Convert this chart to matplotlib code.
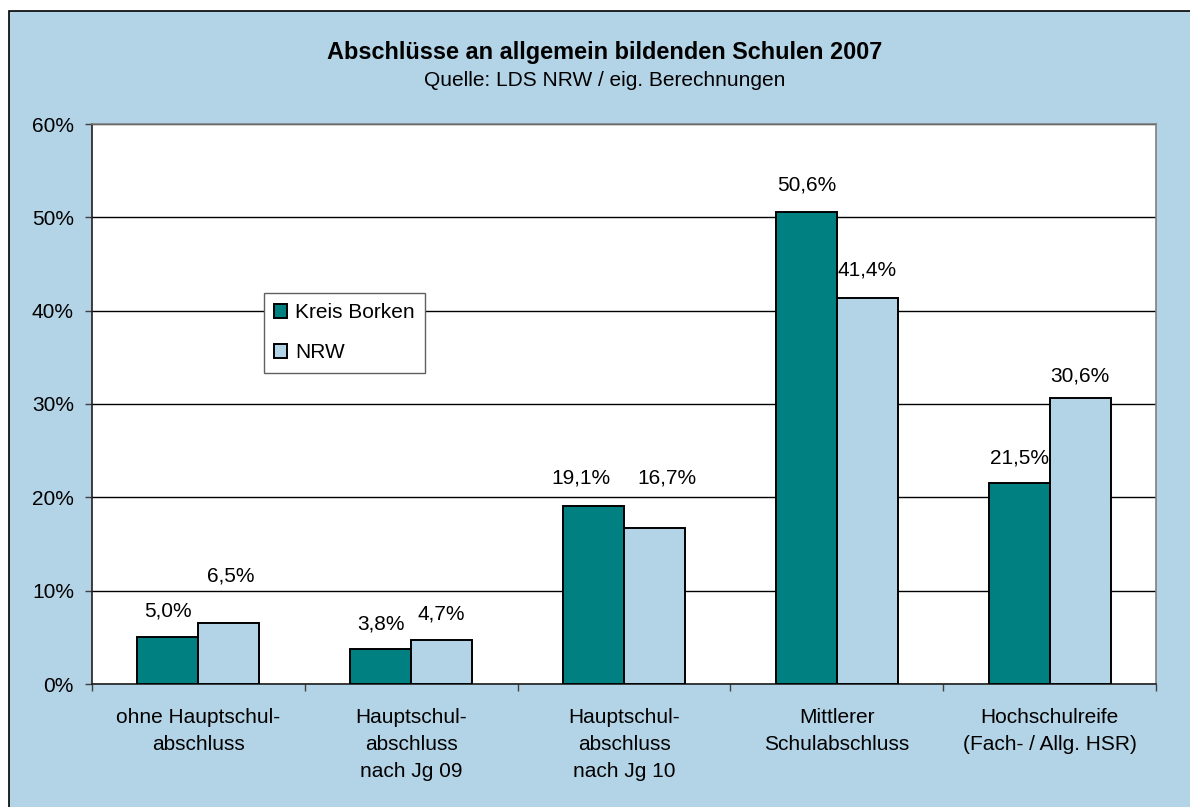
import numpy as np
import matplotlib
matplotlib.use("Agg")
import matplotlib.pyplot as plt
from matplotlib.patches import Rectangle

plt.rcParams['font.family'] = ['Liberation Sans', 'DejaVu Sans']

# data
categories = ["ohne Hauptschul-\nabschluss",
              "Hauptschul-\nabschluss\nnach Jg 09",
              "Hauptschul-\nabschluss\nnach Jg 10",
              "Mittlerer\nSchulabschluss",
              "Hochschulreife\n(Fach- / Allg. HSR)"]
kreis_borken = [5.0, 3.8, 19.1, 50.6, 21.5]
nrw = [6.5, 4.7, 16.7, 41.4, 30.6]
series_names = ["Kreis Borken", "NRW"]
ytick_vals = [0, 10, 20, 30, 40, 50, 60]

# style
teal = "#008080"
light = "#b3d3e6"
bg = "#b3d3e6"
fs = 15

# label offsets (px above bar top, px sideways) for the value labels
kreis_dy = [26, 25, 28, 27, 25]
kreis_dx = [0, 0, -13, 0, 0]
nrw_dy = [47, 26, 50, 28, 22]
nrw_dx = [2, 0, 12, 0, 0]

fig = plt.figure(figsize=(11.9, 8.07), dpi=100)
fig.patch.set_facecolor("white")
W, H = 1190, 807
fig.patches.append(Rectangle((9 / W, -0.01), 1.02, 1 - 11 / H + 0.01, transform=fig.transFigure,
                             facecolor=bg, edgecolor="black", linewidth=1.2, zorder=-5))

ax = fig.add_axes([92 / W, 1 - 684 / H, (1156 - 92) / W, (684 - 124) / H])
ax.set_facecolor("white")

x = np.arange(len(categories))
bw = 0.2867
b1 = ax.bar(x - bw / 2, kreis_borken, bw, color=teal, edgecolor="black", linewidth=1.4,
            label=series_names[0], zorder=3)
b2 = ax.bar(x + bw / 2, nrw, bw, color=light, edgecolor="black", linewidth=1.4,
            label=series_names[1], zorder=3.5)

def fmt(v):
    return ("%.1f%%" % v).replace(".", ",")

px = 0.72  # points per pixel at 100 dpi
for i, v in enumerate(kreis_borken):
    ax.annotate(fmt(v), (x[i] - bw / 2, v), xytext=(kreis_dx[i] * px, kreis_dy[i] * px),
                textcoords="offset points", ha="center", va="center", fontsize=fs, zorder=3.2)
for i, v in enumerate(nrw):
    ax.annotate(fmt(v), (x[i] + bw / 2, v), xytext=(nrw_dx[i] * px, nrw_dy[i] * px),
                textcoords="offset points", ha="center", va="center", fontsize=fs, zorder=4)

ax.set_xlim(-0.5, len(categories) - 0.5)
ax.set_ylim(0, 60)
ax.set_yticks(ytick_vals)
ax.set_yticklabels(["%d%%" % t for t in ytick_vals], fontsize=fs)
ax.yaxis.grid(True, color="black", linewidth=1, zorder=0)
ax.set_axisbelow(True)

ax.set_xticks(x)
ax.set_xticklabels(categories, fontsize=fs, linespacing=1.55)
ax.tick_params(axis="x", which="major", length=0, pad=17)
ax.set_xticks(np.arange(-0.5, len(categories), 1.0), minor=True)
ax.tick_params(axis="x", which="minor", length=5, width=1, color="#404040", direction="out")
ax.tick_params(axis="y", length=5, width=1, color="#404040", pad=8)

for s in ["left", "bottom"]:
    ax.spines[s].set_color("#202020")
    ax.spines[s].set_linewidth(1.2)
for s in ["top", "right"]:
    ax.spines[s].set_color("#808080")
    ax.spines[s].set_linewidth(1.2)

leg = ax.legend(loc="upper left", bbox_to_anchor=((264 - 92) / 1064, (684 - 293) / 560),
                borderaxespad=0, fontsize=fs, fancybox=False, framealpha=1,
                edgecolor="#606060", handlelength=0.6, handleheight=0.6,
                handletextpad=0.4, labelspacing=1.0, borderpad=0.5)
leg.get_frame().set_linewidth(1)

fig.text(605 / W, 1 - 52 / H, "Abschlüsse an allgemein bildenden Schulen 2007", ha="center",
         va="center", fontsize=16.9, fontweight="bold")
fig.text(605 / W, 1 - 80 / H, "Quelle: LDS NRW / eig. Berechnungen", ha="center", va="center",
         fontsize=15)

fig.savefig("out.png", dpi=100, facecolor=fig.get_facecolor())
